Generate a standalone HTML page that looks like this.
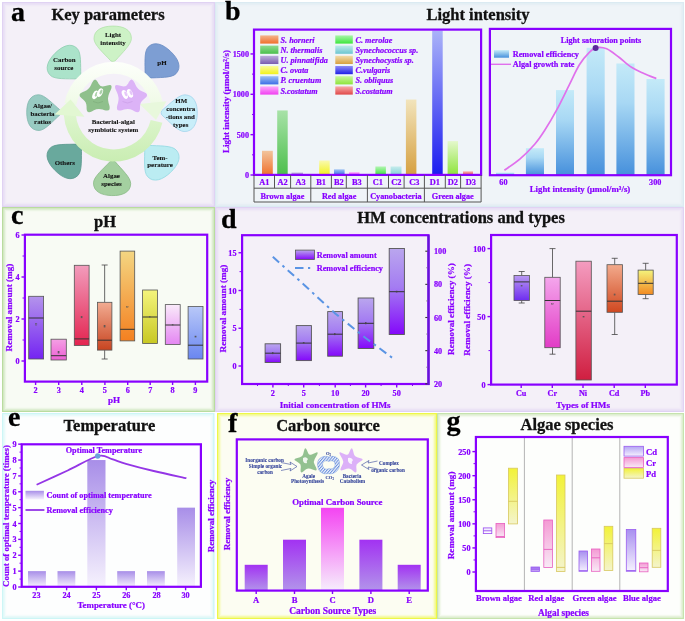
<!DOCTYPE html><html><head><meta charset="utf-8"><style>html,body{margin:0;padding:0;background:#fff;}svg{display:block;will-change:transform}</style></head><body>
<svg width="685" height="621" viewBox="0 0 685 621" style="font-family:'Liberation Serif',serif;font-weight:bold"><defs><linearGradient id="g1" x1="0" y1="0" x2="0" y2="1"><stop offset="0" stop-color="#f4b48c"/><stop offset="1" stop-color="#f0702c"/></linearGradient><linearGradient id="g2" x1="0" y1="0" x2="0" y2="1"><stop offset="0" stop-color="#8fdc8f"/><stop offset="1" stop-color="#4cbf4c"/></linearGradient><linearGradient id="g3" x1="0" y1="0" x2="0" y2="1"><stop offset="0" stop-color="#bcaedb"/><stop offset="1" stop-color="#7a5cb0"/></linearGradient><linearGradient id="g4" x1="0" y1="0" x2="0" y2="1"><stop offset="0" stop-color="#fafa9c"/><stop offset="1" stop-color="#f2f21c"/></linearGradient><linearGradient id="g5" x1="0" y1="0" x2="0" y2="1"><stop offset="0" stop-color="#9cc0f4"/><stop offset="1" stop-color="#3c6ee6"/></linearGradient><linearGradient id="g6" x1="0" y1="0" x2="0" y2="1"><stop offset="0" stop-color="#fcaafc"/><stop offset="1" stop-color="#f040f0"/></linearGradient><linearGradient id="g7" x1="0" y1="0" x2="0" y2="1"><stop offset="0" stop-color="#a8f4a8"/><stop offset="1" stop-color="#3ce63c"/></linearGradient><linearGradient id="g8" x1="0" y1="0" x2="0" y2="1"><stop offset="0" stop-color="#bfeaea"/><stop offset="1" stop-color="#6cc6d0"/></linearGradient><linearGradient id="g9" x1="0" y1="0" x2="0" y2="1"><stop offset="0" stop-color="#f2dcaa"/><stop offset="1" stop-color="#d6a040"/></linearGradient><linearGradient id="g10" x1="0" y1="0" x2="0" y2="1"><stop offset="0" stop-color="#8a8af8"/><stop offset="1" stop-color="#2020e6"/></linearGradient><linearGradient id="g11" x1="0" y1="0" x2="0" y2="1"><stop offset="0" stop-color="#c8f89c"/><stop offset="1" stop-color="#8ee43c"/></linearGradient><linearGradient id="g12" x1="0" y1="0" x2="0" y2="1"><stop offset="0" stop-color="#f8aaaa"/><stop offset="1" stop-color="#e04848"/></linearGradient><linearGradient id="g13" x1="0" y1="0" x2="0" y2="1"><stop offset="0" stop-color="#f2c49c"/><stop offset="1" stop-color="#f0702c"/></linearGradient><linearGradient id="g14" x1="0" y1="0" x2="0" y2="1"><stop offset="0" stop-color="#a8e2a8"/><stop offset="1" stop-color="#4cbf4c"/></linearGradient><linearGradient id="g15" x1="0" y1="0" x2="0" y2="1"><stop offset="0" stop-color="#bcaedb"/><stop offset="1" stop-color="#9a86c8"/></linearGradient><linearGradient id="g16" x1="0" y1="0" x2="0" y2="1"><stop offset="0" stop-color="#fafab0"/><stop offset="1" stop-color="#f2f21c"/></linearGradient><linearGradient id="g17" x1="0" y1="0" x2="0" y2="1"><stop offset="0" stop-color="#9cc0f4"/><stop offset="1" stop-color="#3c6ee6"/></linearGradient><linearGradient id="g18" x1="0" y1="0" x2="0" y2="1"><stop offset="0" stop-color="#fcaafc"/><stop offset="1" stop-color="#f060f0"/></linearGradient><linearGradient id="g19" x1="0" y1="0" x2="0" y2="1"><stop offset="0" stop-color="#b4f4b4"/><stop offset="1" stop-color="#3ce63c"/></linearGradient><linearGradient id="g20" x1="0" y1="0" x2="0" y2="1"><stop offset="0" stop-color="#c6ecec"/><stop offset="1" stop-color="#80d0d8"/></linearGradient><linearGradient id="g21" x1="0" y1="0" x2="0" y2="1"><stop offset="0" stop-color="#f2e4bc"/><stop offset="1" stop-color="#d6a040"/></linearGradient><linearGradient id="g22" x1="0" y1="0" x2="0" y2="1"><stop offset="0" stop-color="#aab2f8"/><stop offset="1" stop-color="#1c1cf0"/></linearGradient><linearGradient id="g23" x1="0" y1="0" x2="0" y2="1"><stop offset="0" stop-color="#e4f8cc"/><stop offset="1" stop-color="#8ee43c"/></linearGradient><linearGradient id="g24" x1="0" y1="0" x2="0" y2="1"><stop offset="0" stop-color="#f8aaaa"/><stop offset="1" stop-color="#e85c5c"/></linearGradient><linearGradient id="g25" x1="0" y1="0" x2="0" y2="1"><stop offset="0" stop-color="#c4eaf8"/><stop offset="0.35" stop-color="#a8d8f4"/><stop offset="1" stop-color="#4690dc"/></linearGradient><linearGradient id="g26" x1="0" y1="0" x2="0" y2="1"><stop offset="0" stop-color="#c4eaf8"/><stop offset="1" stop-color="#4690dc"/></linearGradient><linearGradient id="g27" x1="0" y1="0" x2="0" y2="1"><stop offset="0" stop-color="#b494ec"/><stop offset="1" stop-color="#7424f2"/></linearGradient><linearGradient id="g28" x1="0" y1="0" x2="0" y2="1"><stop offset="0" stop-color="#f4a0e4"/><stop offset="1" stop-color="#ec60d4"/></linearGradient><linearGradient id="g29" x1="0" y1="0" x2="0" y2="1"><stop offset="0" stop-color="#f29cbc"/><stop offset="1" stop-color="#e42450"/></linearGradient><linearGradient id="g30" x1="0" y1="0" x2="0" y2="1"><stop offset="0" stop-color="#f2ac92"/><stop offset="1" stop-color="#c84420"/></linearGradient><linearGradient id="g31" x1="0" y1="0" x2="0" y2="1"><stop offset="0" stop-color="#f4d682"/><stop offset="1" stop-color="#f48020"/></linearGradient><linearGradient id="g32" x1="0" y1="0" x2="0" y2="1"><stop offset="0" stop-color="#f4f47c"/><stop offset="1" stop-color="#c8c824"/></linearGradient><linearGradient id="g33" x1="0" y1="0" x2="0" y2="1"><stop offset="0" stop-color="#faeafa"/><stop offset="1" stop-color="#e486f2"/></linearGradient><linearGradient id="g34" x1="0" y1="0" x2="0" y2="1"><stop offset="0" stop-color="#b8c8f8"/><stop offset="1" stop-color="#6a86f0"/></linearGradient><linearGradient id="g35" x1="0" y1="0" x2="0" y2="1"><stop offset="0" stop-color="#baa6ee"/><stop offset="0.45" stop-color="#a47cf2"/><stop offset="1" stop-color="#8408fa"/></linearGradient><linearGradient id="g36" x1="0" y1="0" x2="0" y2="1"><stop offset="0" stop-color="#baa6ee"/><stop offset="0.45" stop-color="#a47cf2"/><stop offset="1" stop-color="#8408fa"/></linearGradient><linearGradient id="g37" x1="0" y1="0" x2="0" y2="1"><stop offset="0" stop-color="#baa6ee"/><stop offset="0.45" stop-color="#a47cf2"/><stop offset="1" stop-color="#8408fa"/></linearGradient><linearGradient id="g38" x1="0" y1="0" x2="0" y2="1"><stop offset="0" stop-color="#baa6ee"/><stop offset="0.45" stop-color="#a47cf2"/><stop offset="1" stop-color="#8408fa"/></linearGradient><linearGradient id="g39" x1="0" y1="0" x2="0" y2="1"><stop offset="0" stop-color="#baa6ee"/><stop offset="0.45" stop-color="#a47cf2"/><stop offset="1" stop-color="#8408fa"/></linearGradient><linearGradient id="g40" x1="0" y1="0" x2="0" y2="1"><stop offset="0" stop-color="#baa6ee"/><stop offset="1" stop-color="#8408fa"/></linearGradient><linearGradient id="g41" x1="0" y1="0" x2="0" y2="1"><stop offset="0" stop-color="#b898f2"/><stop offset="1" stop-color="#6e2cf0"/></linearGradient><linearGradient id="g42" x1="0" y1="0" x2="0" y2="1"><stop offset="0" stop-color="#f4a6ec"/><stop offset="1" stop-color="#e23cc6"/></linearGradient><linearGradient id="g43" x1="0" y1="0" x2="0" y2="1"><stop offset="0" stop-color="#f49cc0"/><stop offset="1" stop-color="#d01e40"/></linearGradient><linearGradient id="g44" x1="0" y1="0" x2="0" y2="1"><stop offset="0" stop-color="#f2aa8c"/><stop offset="1" stop-color="#d04820"/></linearGradient><linearGradient id="g45" x1="0" y1="0" x2="0" y2="1"><stop offset="0" stop-color="#f4f47c"/><stop offset="1" stop-color="#f28a22"/></linearGradient><linearGradient id="g46" x1="0" y1="0" x2="0" y2="1"><stop offset="0" stop-color="#a88ee8"/><stop offset="1" stop-color="#f6f2fd"/></linearGradient><linearGradient id="g47" x1="0" y1="0" x2="0" y2="1"><stop offset="0" stop-color="#a88ee8"/><stop offset="1" stop-color="#f6f2fd"/></linearGradient><linearGradient id="g48" x1="0" y1="0" x2="0" y2="1"><stop offset="0" stop-color="#a88ee8"/><stop offset="1" stop-color="#f6f2fd"/></linearGradient><linearGradient id="g49" x1="0" y1="0" x2="0" y2="1"><stop offset="0" stop-color="#a88ee8"/><stop offset="1" stop-color="#f6f2fd"/></linearGradient><linearGradient id="g50" x1="0" y1="0" x2="0" y2="1"><stop offset="0" stop-color="#a88ee8"/><stop offset="1" stop-color="#f6f2fd"/></linearGradient><linearGradient id="g51" x1="0" y1="0" x2="0" y2="1"><stop offset="0" stop-color="#a88ee8"/><stop offset="1" stop-color="#f6f2fd"/></linearGradient><linearGradient id="g52" x1="0" y1="0" x2="0" y2="1"><stop offset="0" stop-color="#a88ee8"/><stop offset="1" stop-color="#f6f2fd"/></linearGradient><linearGradient id="g53" x1="0" y1="0" x2="0" y2="1"><stop offset="0" stop-color="#a88ee8"/><stop offset="1" stop-color="#f6f2fd"/></linearGradient><linearGradient id="g54" x1="0" y1="0" x2="0" y2="1"><stop offset="0" stop-color="#a232f2"/><stop offset="1" stop-color="#b294ea"/></linearGradient><linearGradient id="g55" x1="0" y1="0" x2="0" y2="1"><stop offset="0" stop-color="#a232f2"/><stop offset="1" stop-color="#b294ea"/></linearGradient><linearGradient id="g56" x1="0" y1="0" x2="0" y2="1"><stop offset="0" stop-color="#f444f2"/><stop offset="1" stop-color="#f6eefc"/></linearGradient><linearGradient id="g57" x1="0" y1="0" x2="0" y2="1"><stop offset="0" stop-color="#a232f2"/><stop offset="1" stop-color="#b294ea"/></linearGradient><linearGradient id="g58" x1="0" y1="0" x2="0" y2="1"><stop offset="0" stop-color="#a232f2"/><stop offset="1" stop-color="#b294ea"/></linearGradient><pattern id="hatch" width="2.2" height="2.2" patternUnits="userSpaceOnUse" patternTransform="rotate(40)"><rect width="2.2" height="2.2" fill="#eef3fc"/><rect width="1" height="2.2" fill="#6a90dc"/></pattern><linearGradient id="g59" x1="0" y1="0" x2="0" y2="1"><stop offset="0" stop-color="#ece6fd"/><stop offset="1" stop-color="#ffffff"/></linearGradient><linearGradient id="g60" x1="0" y1="0" x2="0" y2="1"><stop offset="0" stop-color="#f49ad4"/><stop offset="1" stop-color="#f8eaf6"/></linearGradient><linearGradient id="g61" x1="0" y1="0" x2="0" y2="1"><stop offset="0" stop-color="#f2f238"/><stop offset="1" stop-color="#f4f4cc"/></linearGradient><linearGradient id="g62" x1="0" y1="0" x2="0" y2="1"><stop offset="0" stop-color="#a070f0"/><stop offset="1" stop-color="#c8a8f4"/></linearGradient><linearGradient id="g63" x1="0" y1="0" x2="0" y2="1"><stop offset="0" stop-color="#f49ad4"/><stop offset="1" stop-color="#f8eaf6"/></linearGradient><linearGradient id="g64" x1="0" y1="0" x2="0" y2="1"><stop offset="0" stop-color="#f2f238"/><stop offset="1" stop-color="#f4f4cc"/></linearGradient><linearGradient id="g65" x1="0" y1="0" x2="0" y2="1"><stop offset="0" stop-color="#a890f0"/><stop offset="1" stop-color="#f6f2fe"/></linearGradient><linearGradient id="g66" x1="0" y1="0" x2="0" y2="1"><stop offset="0" stop-color="#f49ad4"/><stop offset="1" stop-color="#f8eaf6"/></linearGradient><linearGradient id="g67" x1="0" y1="0" x2="0" y2="1"><stop offset="0" stop-color="#f2f238"/><stop offset="1" stop-color="#f4f4cc"/></linearGradient><linearGradient id="g68" x1="0" y1="0" x2="0" y2="1"><stop offset="0" stop-color="#a890f0"/><stop offset="1" stop-color="#f6f2fe"/></linearGradient><linearGradient id="g69" x1="0" y1="0" x2="0" y2="1"><stop offset="0" stop-color="#f49ad4"/><stop offset="1" stop-color="#f8eaf6"/></linearGradient><linearGradient id="g70" x1="0" y1="0" x2="0" y2="1"><stop offset="0" stop-color="#f2f238"/><stop offset="1" stop-color="#f4f4cc"/></linearGradient><linearGradient id="g71" x1="0" y1="0" x2="0" y2="1"><stop offset="0" stop-color="#b4a4f4"/><stop offset="1" stop-color="#f6f2fe"/></linearGradient><linearGradient id="g72" x1="0" y1="0" x2="0" y2="1"><stop offset="0" stop-color="#f49ad4"/><stop offset="1" stop-color="#f8eaf6"/></linearGradient><linearGradient id="g73" x1="0" y1="0" x2="0" y2="1"><stop offset="0" stop-color="#f2f238"/><stop offset="1" stop-color="#f4f4cc"/></linearGradient><linearGradient id="ringT" gradientUnits="userSpaceOnUse" x1="0" y1="62" x2="0" y2="122"><stop offset="0" stop-color="#fdfffb"/><stop offset="0.6" stop-color="#f2fbea"/><stop offset="1" stop-color="#e2f6d4"/></linearGradient><linearGradient id="ringB" gradientUnits="userSpaceOnUse" x1="0" y1="100" x2="0" y2="162"><stop offset="0" stop-color="#e4f8d6"/><stop offset="1" stop-color="#c9edb2"/></linearGradient></defs><rect x="2" y="2" width="213" height="205" fill="#f4f0f8" stroke="none" stroke-width="0" />
<rect x="2.7" y="2.7" width="211.6" height="203.6" fill="none" stroke="#e0d2f3" stroke-width="1.4" />
<rect x="4.1" y="4.1" width="208.8" height="200.8" fill="none" stroke="#e0d2f3" stroke-width="1.4" opacity="0.45"/>
<rect x="5.5" y="5.5" width="206" height="198" fill="none" stroke="#e0d2f3" stroke-width="1.4" opacity="0.18"/>
<rect x="215" y="2" width="469" height="205" fill="#eff4f8" stroke="none" stroke-width="0" />
<rect x="215.7" y="2.7" width="467.6" height="203.6" fill="none" stroke="#dbeaf2" stroke-width="1.4" />
<rect x="217.1" y="4.1" width="464.8" height="200.8" fill="none" stroke="#dbeaf2" stroke-width="1.4" opacity="0.45"/>
<rect x="218.5" y="5.5" width="462" height="198" fill="none" stroke="#dbeaf2" stroke-width="1.4" opacity="0.18"/>
<rect x="2" y="207" width="213" height="205" fill="#f8fbf4" stroke="none" stroke-width="0" />
<rect x="2.7" y="207.7" width="211.6" height="203.6" fill="none" stroke="#b9dc9f" stroke-width="1.4" />
<rect x="4.1" y="209.1" width="208.8" height="200.8" fill="none" stroke="#b9dc9f" stroke-width="1.4" opacity="0.45"/>
<rect x="5.5" y="210.5" width="206" height="198" fill="none" stroke="#b9dc9f" stroke-width="1.4" opacity="0.18"/>
<rect x="215" y="207" width="469" height="205" fill="#f4f0f8" stroke="none" stroke-width="0" />
<rect x="215.7" y="207.7" width="467.6" height="203.6" fill="none" stroke="#e0d2f3" stroke-width="1.4" />
<rect x="217.1" y="209.1" width="464.8" height="200.8" fill="none" stroke="#e0d2f3" stroke-width="1.4" opacity="0.45"/>
<rect x="218.5" y="210.5" width="462" height="198" fill="none" stroke="#e0d2f3" stroke-width="1.4" opacity="0.18"/>
<rect x="2" y="413" width="212.5" height="206" fill="#fdfefe" stroke="none" stroke-width="0" />
<rect x="2.7" y="413.7" width="211.1" height="204.6" fill="none" stroke="#cdf6f6" stroke-width="1.4" />
<rect x="4.1" y="415.1" width="208.3" height="201.8" fill="none" stroke="#cdf6f6" stroke-width="1.4" opacity="0.45"/>
<rect x="5.5" y="416.5" width="205.5" height="199" fill="none" stroke="#cdf6f6" stroke-width="1.4" opacity="0.18"/>
<rect x="217" y="413" width="220" height="206" fill="#fcfdf2" stroke="none" stroke-width="0" />
<rect x="217.7" y="413.7" width="218.6" height="204.6" fill="none" stroke="#eef748" stroke-width="1.4" />
<rect x="219.1" y="415.1" width="215.8" height="201.8" fill="none" stroke="#eef748" stroke-width="1.4" opacity="0.45"/>
<rect x="220.5" y="416.5" width="213" height="199" fill="none" stroke="#eef748" stroke-width="1.4" opacity="0.18"/>
<rect x="437" y="413" width="247" height="206" fill="#fdfefc" stroke="none" stroke-width="0" />
<rect x="437.7" y="413.7" width="245.6" height="204.6" fill="none" stroke="#c6e3ae" stroke-width="1.4" />
<rect x="439.1" y="415.1" width="242.8" height="201.8" fill="none" stroke="#c6e3ae" stroke-width="1.4" opacity="0.45"/>
<rect x="440.5" y="416.5" width="240" height="199" fill="none" stroke="#c6e3ae" stroke-width="1.4" opacity="0.18"/>
<text x="11" y="21" font-size="28" fill="#000" stroke="#000" stroke-width="0.3" text-anchor="start"  style="">a</text>
<text x="225" y="20" font-size="28" fill="#000" stroke="#000" stroke-width="0.3" text-anchor="start"  style="">b</text>
<text x="11" y="224" font-size="28" fill="#000" stroke="#000" stroke-width="0.3" text-anchor="start"  style="">c</text>
<text x="221" y="228" font-size="28" fill="#000" stroke="#000" stroke-width="0.3" text-anchor="start"  style="">d</text>
<text x="8" y="426" font-size="28" fill="#000" stroke="#000" stroke-width="0.3" text-anchor="start"  style="">e</text>
<text x="228" y="431.8" font-size="28" fill="#000" stroke="#000" stroke-width="0.3" text-anchor="start"  style="">f</text>
<text x="446.5" y="430" font-size="28" fill="#000" stroke="#000" stroke-width="0.3" text-anchor="start"  style="">g</text>
<text x="108" y="20" font-size="16.5" fill="#111" stroke="#111" stroke-width="0.3" text-anchor="middle"  style="">Key parameters</text>
<text x="478" y="20" font-size="16.5" fill="#111" stroke="#111" stroke-width="0.3" text-anchor="middle"  style="">Light intensity</text>
<text x="105" y="227" font-size="16.5" fill="#111" stroke="#111" stroke-width="0.3" text-anchor="middle"  style="">pH</text>
<text x="461" y="223" font-size="16.5" fill="#111" stroke="#111" stroke-width="0.3" text-anchor="middle"  style="">HM concentrations and types</text>
<text x="109.4" y="431" font-size="16.5" fill="#111" stroke="#111" stroke-width="0.3" text-anchor="middle"  style="">Temperature</text>
<text x="328" y="431" font-size="16.5" fill="#111" stroke="#111" stroke-width="0.3" text-anchor="middle"  style="">Carbon source</text>
<text x="567" y="430" font-size="16.5" fill="#111" stroke="#111" stroke-width="0.3" text-anchor="middle"  style="">Algae species</text>
<rect x="260.2" y="35.4" width="18.2" height="8.2" fill="url(#g1)" stroke="none" stroke-width="0" />
<text x="280.5" y="42.6" font-size="8.2" fill="#8800ff" stroke="#8800ff" stroke-width="0.22" text-anchor="start"  style="font-style:italic">S. horneri</text>
<rect x="260.2" y="45.6" width="18.2" height="8.2" fill="url(#g2)" stroke="none" stroke-width="0" />
<text x="280.5" y="52.800000000000004" font-size="8.2" fill="#8800ff" stroke="#8800ff" stroke-width="0.22" text-anchor="start"  style="font-style:italic">N. thermalis</text>
<rect x="260.2" y="55.8" width="18.2" height="8.2" fill="url(#g3)" stroke="none" stroke-width="0" />
<text x="280.5" y="63.0" font-size="8.2" fill="#8800ff" stroke="#8800ff" stroke-width="0.22" text-anchor="start"  style="font-style:italic">U. pinnatifida</text>
<rect x="260.2" y="66.0" width="18.2" height="8.2" fill="url(#g4)" stroke="none" stroke-width="0" />
<text x="280.5" y="73.2" font-size="8.2" fill="#8800ff" stroke="#8800ff" stroke-width="0.22" text-anchor="start"  style="font-style:italic">C. ovata</text>
<rect x="260.2" y="76.2" width="18.2" height="8.2" fill="url(#g5)" stroke="none" stroke-width="0" />
<text x="280.5" y="83.4" font-size="8.2" fill="#8800ff" stroke="#8800ff" stroke-width="0.22" text-anchor="start"  style="font-style:italic">P. cruentum</text>
<rect x="260.2" y="86.4" width="18.2" height="8.2" fill="url(#g6)" stroke="none" stroke-width="0" />
<text x="280.5" y="93.60000000000001" font-size="8.2" fill="#8800ff" stroke="#8800ff" stroke-width="0.22" text-anchor="start"  style="font-style:italic">S.costatum</text>
<rect x="335.3" y="35.4" width="17.5" height="8.2" fill="url(#g7)" stroke="none" stroke-width="0" />
<text x="355.5" y="42.6" font-size="8.2" fill="#8800ff" stroke="#8800ff" stroke-width="0.22" text-anchor="start"  style="font-style:italic">C. merolae</text>
<rect x="335.3" y="45.6" width="17.5" height="8.2" fill="url(#g8)" stroke="none" stroke-width="0" />
<text x="355.5" y="52.800000000000004" font-size="8.2" fill="#8800ff" stroke="#8800ff" stroke-width="0.22" text-anchor="start"  style="font-style:italic">Synechococcus sp.</text>
<rect x="335.3" y="55.8" width="17.5" height="8.2" fill="url(#g9)" stroke="none" stroke-width="0" />
<text x="355.5" y="63.0" font-size="8.2" fill="#8800ff" stroke="#8800ff" stroke-width="0.22" text-anchor="start"  style="font-style:italic">Synechocystis sp.</text>
<rect x="335.3" y="66.0" width="17.5" height="8.2" fill="url(#g10)" stroke="none" stroke-width="0" />
<text x="355.5" y="73.2" font-size="8.2" fill="#8800ff" stroke="#8800ff" stroke-width="0.22" text-anchor="start"  style="font-style:italic">C.vulgaris</text>
<rect x="335.3" y="76.2" width="17.5" height="8.2" fill="url(#g11)" stroke="none" stroke-width="0" />
<text x="355.5" y="83.4" font-size="8.2" fill="#8800ff" stroke="#8800ff" stroke-width="0.22" text-anchor="start"  style="font-style:italic">S. obliquus</text>
<rect x="335.3" y="86.4" width="17.5" height="8.2" fill="url(#g12)" stroke="none" stroke-width="0" />
<text x="355.5" y="93.60000000000001" font-size="8.2" fill="#8800ff" stroke="#8800ff" stroke-width="0.22" text-anchor="start"  style="font-style:italic">S.costatum</text>
<rect x="262" y="150.79" width="10.800000000000011" height="24.210000000000008" fill="url(#g13)" stroke="none" stroke-width="0" />
<rect x="277.2" y="110.44" width="10.5" height="64.56" fill="url(#g14)" stroke="none" stroke-width="0" />
<rect x="291.5" y="172.579" width="11.5" height="2.4209999999999923" fill="url(#g15)" stroke="none" stroke-width="0" />
<rect x="319.2" y="160.474" width="10.5" height="14.52600000000001" fill="url(#g16)" stroke="none" stroke-width="0" />
<rect x="334" y="169.351" width="10.600000000000023" height="5.649000000000001" fill="url(#g17)" stroke="none" stroke-width="0" />
<rect x="349" y="172.1755" width="10.5" height="2.8245000000000005" fill="url(#g18)" stroke="none" stroke-width="0" />
<rect x="375.4" y="166.4458" width="10.5" height="8.554200000000009" fill="url(#g19)" stroke="none" stroke-width="0" />
<rect x="390.6" y="166.4458" width="10.899999999999977" height="8.554200000000009" fill="url(#g20)" stroke="none" stroke-width="0" />
<rect x="405.9" y="99.5455" width="10.5" height="75.4545" fill="url(#g21)" stroke="none" stroke-width="0" />
<rect x="432.2" y="30.546999999999997" width="10.5" height="144.453" fill="url(#g22)" stroke="none" stroke-width="0" />
<rect x="447.6" y="141.106" width="10.399999999999977" height="33.894000000000005" fill="url(#g23)" stroke="none" stroke-width="0" />
<rect x="463" y="171.3685" width="10" height="3.6314999999999884" fill="url(#g24)" stroke="none" stroke-width="0" />
<rect x="254" y="29.6" width="227.10000000000002" height="145.3" fill="none" stroke="#8800ff" stroke-width="2.2"/>
<line x1="250.5" y1="175.0" x2="254" y2="175.0" stroke="#8800ff" stroke-width="1.4" />
<text x="249" y="178.0" font-size="8.2" fill="#8800ff" stroke="#8800ff" stroke-width="0.22" text-anchor="end"  style="">0</text>
<line x1="250.5" y1="134.65" x2="254" y2="134.65" stroke="#8800ff" stroke-width="1.4" />
<text x="249" y="137.65" font-size="8.2" fill="#8800ff" stroke="#8800ff" stroke-width="0.22" text-anchor="end"  style="">500</text>
<line x1="250.5" y1="94.30000000000001" x2="254" y2="94.30000000000001" stroke="#8800ff" stroke-width="1.4" />
<text x="249" y="97.30000000000001" font-size="8.2" fill="#8800ff" stroke="#8800ff" stroke-width="0.22" text-anchor="end"  style="">1000</text>
<line x1="250.5" y1="53.95" x2="254" y2="53.95" stroke="#8800ff" stroke-width="1.4" />
<text x="249" y="56.95" font-size="8.2" fill="#8800ff" stroke="#8800ff" stroke-width="0.22" text-anchor="end"  style="">1500</text>
<line x1="252" y1="154.825" x2="254" y2="154.825" stroke="#8800ff" stroke-width="1" />
<line x1="252" y1="114.475" x2="254" y2="114.475" stroke="#8800ff" stroke-width="1" />
<line x1="252" y1="74.12500000000001" x2="254" y2="74.12500000000001" stroke="#8800ff" stroke-width="1" />
<text x="0" y="0" font-size="9" fill="#8800ff" stroke="#8800ff" stroke-width="0.22" text-anchor="middle" dominant-baseline="central" transform="translate(226.4,101.5) rotate(-90)">Light intensity (μmol/m²/s)</text>
<line x1="254" y1="175" x2="254" y2="202" stroke="#555" stroke-width="1" />
<line x1="274.5" y1="175" x2="274.5" y2="188.2" stroke="#555" stroke-width="1" />
<line x1="290.6" y1="175" x2="290.6" y2="188.2" stroke="#555" stroke-width="1" />
<line x1="310.8" y1="175" x2="310.8" y2="202" stroke="#555" stroke-width="1" />
<line x1="331.4" y1="175" x2="331.4" y2="188.2" stroke="#555" stroke-width="1" />
<line x1="346.3" y1="175" x2="346.3" y2="188.2" stroke="#555" stroke-width="1" />
<line x1="367.4" y1="175" x2="367.4" y2="202" stroke="#555" stroke-width="1" />
<line x1="388.5" y1="175" x2="388.5" y2="188.2" stroke="#555" stroke-width="1" />
<line x1="404.1" y1="175" x2="404.1" y2="188.2" stroke="#555" stroke-width="1" />
<line x1="424.4" y1="175" x2="424.4" y2="202" stroke="#555" stroke-width="1" />
<line x1="445.3" y1="175" x2="445.3" y2="188.2" stroke="#555" stroke-width="1" />
<line x1="460.6" y1="175" x2="460.6" y2="188.2" stroke="#555" stroke-width="1" />
<line x1="481.1" y1="175" x2="481.1" y2="202" stroke="#555" stroke-width="1" />
<line x1="254" y1="188.2" x2="481.1" y2="188.2" stroke="#555" stroke-width="1" />
<line x1="254" y1="202" x2="481.1" y2="202" stroke="#555" stroke-width="1.2" />
<text x="264.25" y="185" font-size="8.4" fill="#8800ff" stroke="#8800ff" stroke-width="0.22" text-anchor="middle"  style="">A1</text>
<text x="282.55" y="185" font-size="8.4" fill="#8800ff" stroke="#8800ff" stroke-width="0.22" text-anchor="middle"  style="">A2</text>
<text x="300.70000000000005" y="185" font-size="8.4" fill="#8800ff" stroke="#8800ff" stroke-width="0.22" text-anchor="middle"  style="">A3</text>
<text x="321.1" y="185" font-size="8.4" fill="#8800ff" stroke="#8800ff" stroke-width="0.22" text-anchor="middle"  style="">B1</text>
<text x="338.85" y="185" font-size="8.4" fill="#8800ff" stroke="#8800ff" stroke-width="0.22" text-anchor="middle"  style="">B2</text>
<text x="356.85" y="185" font-size="8.4" fill="#8800ff" stroke="#8800ff" stroke-width="0.22" text-anchor="middle"  style="">B3</text>
<text x="377.95" y="185" font-size="8.4" fill="#8800ff" stroke="#8800ff" stroke-width="0.22" text-anchor="middle"  style="">C1</text>
<text x="396.3" y="185" font-size="8.4" fill="#8800ff" stroke="#8800ff" stroke-width="0.22" text-anchor="middle"  style="">C2</text>
<text x="414.25" y="185" font-size="8.4" fill="#8800ff" stroke="#8800ff" stroke-width="0.22" text-anchor="middle"  style="">C3</text>
<text x="434.85" y="185" font-size="8.4" fill="#8800ff" stroke="#8800ff" stroke-width="0.22" text-anchor="middle"  style="">D1</text>
<text x="452.95000000000005" y="185" font-size="8.4" fill="#8800ff" stroke="#8800ff" stroke-width="0.22" text-anchor="middle"  style="">D2</text>
<text x="470.85" y="185" font-size="8.4" fill="#8800ff" stroke="#8800ff" stroke-width="0.22" text-anchor="middle"  style="">D3</text>
<text x="282.4" y="198.8" font-size="8.2" fill="#8800ff" stroke="#8800ff" stroke-width="0.22" text-anchor="middle"  style="">Brown algae</text>
<text x="339.1" y="198.8" font-size="8.2" fill="#8800ff" stroke="#8800ff" stroke-width="0.22" text-anchor="middle"  style="">Red algae</text>
<text x="395.9" y="198.8" font-size="8.2" fill="#8800ff" stroke="#8800ff" stroke-width="0.22" text-anchor="middle"  style="">Cyanobacteria</text>
<text x="452.75" y="198.8" font-size="8.2" fill="#8800ff" stroke="#8800ff" stroke-width="0.22" text-anchor="middle"  style="">Green algae</text>
<rect x="496" y="172.6" width="18.200000000000045" height="2.4000000000000057" fill="url(#g25)" stroke="none" stroke-width="0" />
<rect x="525.9" y="148.2" width="18.100000000000023" height="26.80000000000001" fill="url(#g25)" stroke="none" stroke-width="0" />
<rect x="556" y="90.1" width="18" height="84.9" fill="url(#g25)" stroke="none" stroke-width="0" />
<rect x="586.6" y="47.8" width="18.100000000000023" height="127.2" fill="url(#g25)" stroke="none" stroke-width="0" />
<rect x="616.4" y="63.5" width="18.100000000000023" height="111.5" fill="url(#g25)" stroke="none" stroke-width="0" />
<rect x="646.5" y="79" width="18.100000000000023" height="96" fill="url(#g25)" stroke="none" stroke-width="0" />
<path d="M504.40,170.20 C506.97,168.35 514.75,163.43 519.80,159.10 C524.85,154.77 530.57,148.97 534.70,144.20 C538.83,139.43 540.88,136.30 544.60,130.50 C548.32,124.70 552.87,117.05 557.00,109.40 C561.13,101.75 565.67,92.03 569.40,84.60 C573.13,77.17 576.08,70.17 579.40,64.80 C582.72,59.43 586.42,55.27 589.30,52.40 C592.18,49.53 593.80,48.20 596.70,47.60 C599.60,47.00 602.98,47.18 606.70,48.80 C610.42,50.42 614.87,54.22 619.00,57.30 C623.13,60.38 627.35,64.60 631.50,67.30 C635.65,70.00 639.77,71.62 643.90,73.50 C648.03,75.38 654.23,77.75 656.30,78.60" fill="none" stroke="#e070ec" stroke-width="1.7"/>
<circle cx="595.6" cy="47.9" r="3" fill="#5a2a9a"/>
<rect x="489.9" y="28.9" width="181.10000000000002" height="146.29999999999998" fill="none" stroke="#8800ff" stroke-width="2.2"/>
<text x="601" y="43" font-size="8.2" fill="#8800ff" stroke="#8800ff" stroke-width="0.22" text-anchor="middle"  style="">Light saturation points</text>
<rect x="494" y="50.1" width="15" height="7.6" fill="url(#g26)" stroke="none" stroke-width="0" />
<text x="512.8" y="57" font-size="8.2" fill="#8800ff" stroke="#8800ff" stroke-width="0.22" text-anchor="start"  style="">Removal efficiency</text>
<line x1="491" y1="64.3" x2="511" y2="64.3" stroke="#e070ec" stroke-width="1.4" />
<text x="512.8" y="67" font-size="8.2" fill="#8800ff" stroke="#8800ff" stroke-width="0.22" text-anchor="start"  style="">Algal growth rate</text>
<text x="503.4" y="184.5" font-size="8.2" fill="#8800ff" stroke="#8800ff" stroke-width="0.22" text-anchor="middle"  style="">60</text>
<text x="655.2" y="184.5" font-size="8.2" fill="#8800ff" stroke="#8800ff" stroke-width="0.22" text-anchor="middle"  style="">300</text>
<text x="580" y="192" font-size="8.8" fill="#8800ff" stroke="#8800ff" stroke-width="0.22" text-anchor="middle"  style="">Light intensity (μmol/m³/s)</text>
<rect x="28.7" y="296.3" width="14.900000000000002" height="62.69999999999999" fill="url(#g27)" stroke="#555" stroke-width="0.8" />
<line x1="28.7" y1="318" x2="43.6" y2="318" stroke="#333" stroke-width="1" />
<rect x="35.449999999999996" y="323.7" width="1.4" height="1.4" fill="none" stroke="#555" stroke-width="0.4"/>
<rect x="51" y="339.2" width="15.299999999999997" height="20.80000000000001" fill="url(#g28)" stroke="#555" stroke-width="0.8" />
<line x1="51" y1="355.7" x2="66.3" y2="355.7" stroke="#333" stroke-width="1" />
<rect x="57.949999999999996" y="351.8" width="1.4" height="1.4" fill="none" stroke="#555" stroke-width="0.4"/>
<rect x="74.3" y="265.3" width="14.799999999999997" height="80.19999999999999" fill="url(#g29)" stroke="#555" stroke-width="0.8" />
<line x1="74.3" y1="338.9" x2="89.1" y2="338.9" stroke="#333" stroke-width="1" />
<rect x="80.99999999999999" y="316.5" width="1.4" height="1.4" fill="none" stroke="#555" stroke-width="0.4"/>
<line x1="104.65" y1="265" x2="104.65" y2="302.3" stroke="#444" stroke-width="0.8" />
<line x1="104.65" y1="350.1" x2="104.65" y2="359" stroke="#444" stroke-width="0.8" />
<line x1="101.65" y1="265" x2="107.65" y2="265" stroke="#444" stroke-width="0.8" />
<line x1="101.65" y1="359" x2="107.65" y2="359" stroke="#444" stroke-width="0.8" />
<rect x="97.4" y="302.3" width="14.5" height="47.80000000000001" fill="url(#g30)" stroke="#555" stroke-width="0.8" />
<line x1="97.4" y1="340.2" x2="111.9" y2="340.2" stroke="#333" stroke-width="1" />
<rect x="103.95" y="325.8" width="1.4" height="1.4" fill="none" stroke="#555" stroke-width="0.4"/>
<rect x="120.1" y="251.1" width="14.599999999999994" height="89.79999999999998" fill="url(#g31)" stroke="#555" stroke-width="0.8" />
<line x1="120.1" y1="329.3" x2="134.7" y2="329.3" stroke="#333" stroke-width="1" />
<rect x="126.69999999999999" y="306.3" width="1.4" height="1.4" fill="none" stroke="#555" stroke-width="0.4"/>
<rect x="142.6" y="290" width="14.800000000000011" height="53.5" fill="url(#g32)" stroke="#555" stroke-width="0.8" />
<line x1="142.6" y1="317" x2="157.4" y2="317" stroke="#333" stroke-width="1" />
<rect x="149.3" y="316.3" width="1.4" height="1.4" fill="none" stroke="#555" stroke-width="0.4"/>
<rect x="165.3" y="304.6" width="14.899999999999977" height="39.89999999999998" fill="url(#g33)" stroke="#555" stroke-width="0.8" />
<line x1="165.3" y1="325" x2="180.2" y2="325" stroke="#333" stroke-width="1" />
<rect x="172.05" y="324.3" width="1.4" height="1.4" fill="none" stroke="#555" stroke-width="0.4"/>
<rect x="188.1" y="306.5" width="14.900000000000006" height="52.5" fill="url(#g34)" stroke="#555" stroke-width="0.8" />
<line x1="188.1" y1="345.2" x2="203" y2="345.2" stroke="#333" stroke-width="1" />
<rect x="194.85000000000002" y="336.0" width="1.4" height="1.4" fill="none" stroke="#555" stroke-width="0.4"/>
<rect x="24.9" y="234.7" width="182.29999999999998" height="146.90000000000003" fill="none" stroke="#8800ff" stroke-width="2.2"/>
<line x1="21.5" y1="361" x2="24.9" y2="361" stroke="#8800ff" stroke-width="1.4" />
<text x="19.5" y="364" font-size="8.2" fill="#8800ff" stroke="#8800ff" stroke-width="0.22" text-anchor="end"  style="">0</text>
<line x1="21.5" y1="319" x2="24.9" y2="319" stroke="#8800ff" stroke-width="1.4" />
<text x="19.5" y="322" font-size="8.2" fill="#8800ff" stroke="#8800ff" stroke-width="0.22" text-anchor="end"  style="">2</text>
<line x1="21.5" y1="277" x2="24.9" y2="277" stroke="#8800ff" stroke-width="1.4" />
<text x="19.5" y="280" font-size="8.2" fill="#8800ff" stroke="#8800ff" stroke-width="0.22" text-anchor="end"  style="">4</text>
<line x1="21.5" y1="235" x2="24.9" y2="235" stroke="#8800ff" stroke-width="1.4" />
<text x="19.5" y="238" font-size="8.2" fill="#8800ff" stroke="#8800ff" stroke-width="0.22" text-anchor="end"  style="">6</text>
<line x1="22.5" y1="340" x2="24.9" y2="340" stroke="#8800ff" stroke-width="1" />
<line x1="22.5" y1="298" x2="24.9" y2="298" stroke="#8800ff" stroke-width="1" />
<line x1="22.5" y1="256" x2="24.9" y2="256" stroke="#8800ff" stroke-width="1" />
<line x1="35.6" y1="381.6" x2="35.6" y2="385" stroke="#8800ff" stroke-width="1.4" />
<text x="35.6" y="393" font-size="8.2" fill="#8800ff" stroke="#8800ff" stroke-width="0.22" text-anchor="middle"  style="">2</text>
<line x1="58.7" y1="381.6" x2="58.7" y2="385" stroke="#8800ff" stroke-width="1.4" />
<text x="58.7" y="393" font-size="8.2" fill="#8800ff" stroke="#8800ff" stroke-width="0.22" text-anchor="middle"  style="">3</text>
<line x1="81.8" y1="381.6" x2="81.8" y2="385" stroke="#8800ff" stroke-width="1.4" />
<text x="81.8" y="393" font-size="8.2" fill="#8800ff" stroke="#8800ff" stroke-width="0.22" text-anchor="middle"  style="">4</text>
<line x1="104.9" y1="381.6" x2="104.9" y2="385" stroke="#8800ff" stroke-width="1.4" />
<text x="104.9" y="393" font-size="8.2" fill="#8800ff" stroke="#8800ff" stroke-width="0.22" text-anchor="middle"  style="">5</text>
<line x1="127.7" y1="381.6" x2="127.7" y2="385" stroke="#8800ff" stroke-width="1.4" />
<text x="127.7" y="393" font-size="8.2" fill="#8800ff" stroke="#8800ff" stroke-width="0.22" text-anchor="middle"  style="">6</text>
<line x1="150.2" y1="381.6" x2="150.2" y2="385" stroke="#8800ff" stroke-width="1.4" />
<text x="150.2" y="393" font-size="8.2" fill="#8800ff" stroke="#8800ff" stroke-width="0.22" text-anchor="middle"  style="">7</text>
<line x1="172.6" y1="381.6" x2="172.6" y2="385" stroke="#8800ff" stroke-width="1.4" />
<text x="172.6" y="393" font-size="8.2" fill="#8800ff" stroke="#8800ff" stroke-width="0.22" text-anchor="middle"  style="">8</text>
<line x1="195.4" y1="381.6" x2="195.4" y2="385" stroke="#8800ff" stroke-width="1.4" />
<text x="195.4" y="393" font-size="8.2" fill="#8800ff" stroke="#8800ff" stroke-width="0.22" text-anchor="middle"  style="">9</text>
<text x="114" y="403.2" font-size="9.1" fill="#8800ff" stroke="#8800ff" stroke-width="0.22" text-anchor="middle"  style="">pH</text>
<text x="0" y="0" font-size="9.2" fill="#8800ff" stroke="#8800ff" stroke-width="0.22" text-anchor="middle" dominant-baseline="central" transform="translate(9.2,307.5) rotate(-90)">Removal amount (mg)</text>
<rect x="265.1" y="343.8" width="15.5" height="18.69999999999999" fill="url(#g35)" stroke="#555" stroke-width="0.9" />
<line x1="265.1" y1="353.2" x2="280.6" y2="353.2" stroke="#333" stroke-width="1" />
<rect x="272.15000000000003" y="352.5" width="1.4" height="1.4" fill="none" stroke="#444" stroke-width="0.4"/>
<rect x="296.2" y="325.6" width="15.199999999999989" height="35.0" fill="url(#g36)" stroke="#555" stroke-width="0.9" />
<line x1="296.2" y1="343.1" x2="311.4" y2="343.1" stroke="#333" stroke-width="1" />
<rect x="303.09999999999997" y="342.40000000000003" width="1.4" height="1.4" fill="none" stroke="#444" stroke-width="0.4"/>
<rect x="327.7" y="311.6" width="14.800000000000011" height="44.599999999999966" fill="url(#g37)" stroke="#555" stroke-width="0.9" />
<line x1="327.7" y1="334.2" x2="342.5" y2="334.2" stroke="#333" stroke-width="1" />
<rect x="334.40000000000003" y="333.5" width="1.4" height="1.4" fill="none" stroke="#444" stroke-width="0.4"/>
<rect x="358.1" y="298" width="15.699999999999989" height="50.5" fill="url(#g38)" stroke="#555" stroke-width="0.9" />
<line x1="358.1" y1="323.3" x2="373.8" y2="323.3" stroke="#333" stroke-width="1" />
<rect x="365.25000000000006" y="322.6" width="1.4" height="1.4" fill="none" stroke="#444" stroke-width="0.4"/>
<rect x="389.2" y="248.5" width="15.199999999999989" height="86.0" fill="url(#g39)" stroke="#555" stroke-width="0.9" />
<line x1="389.2" y1="291.7" x2="404.4" y2="291.7" stroke="#333" stroke-width="1" />
<rect x="396.09999999999997" y="291.0" width="1.4" height="1.4" fill="none" stroke="#444" stroke-width="0.4"/>
<polyline points="272.8,256.7 303.7,284.5 335.2,313.5 365.6,338 393.6,358.8" fill="none" stroke="#5a94e4" stroke-width="2" stroke-dasharray="8.5,4.5,2.6,4.5"/>
<rect x="295.5" y="250.1" width="18.9" height="9.4" fill="url(#g40)" stroke="#555" stroke-width="0.8" />
<text x="316.8" y="257.8" font-size="8.2" fill="#8800ff" stroke="#8800ff" stroke-width="0.22" text-anchor="start"  style="">Removal amount</text>
<line x1="295" y1="267.9" x2="310.2" y2="267.9" stroke="#5a94e4" stroke-width="2" stroke-dasharray="8.5,4.5,2.6,4.5"/>
<text x="316.8" y="270.7" font-size="8.2" fill="#8800ff" stroke="#8800ff" stroke-width="0.22" text-anchor="start"  style="">Removal efficiency</text>
<rect x="242.1" y="235.2" width="186.4" height="148.8" fill="none" stroke="#8800ff" stroke-width="2.2"/>
<line x1="238.5" y1="366.0" x2="242.1" y2="366.0" stroke="#8800ff" stroke-width="1.4" />
<text x="236.5" y="369.0" font-size="8.2" fill="#8800ff" stroke="#8800ff" stroke-width="0.22" text-anchor="end"  style="">0</text>
<line x1="238.5" y1="328.25" x2="242.1" y2="328.25" stroke="#8800ff" stroke-width="1.4" />
<text x="236.5" y="331.25" font-size="8.2" fill="#8800ff" stroke="#8800ff" stroke-width="0.22" text-anchor="end"  style="">5</text>
<line x1="238.5" y1="290.5" x2="242.1" y2="290.5" stroke="#8800ff" stroke-width="1.4" />
<text x="236.5" y="293.5" font-size="8.2" fill="#8800ff" stroke="#8800ff" stroke-width="0.22" text-anchor="end"  style="">10</text>
<line x1="238.5" y1="252.75" x2="242.1" y2="252.75" stroke="#8800ff" stroke-width="1.4" />
<text x="236.5" y="255.75" font-size="8.2" fill="#8800ff" stroke="#8800ff" stroke-width="0.22" text-anchor="end"  style="">15</text>
<line x1="239.5" y1="347.125" x2="242.1" y2="347.125" stroke="#8800ff" stroke-width="1" />
<line x1="239.5" y1="309.375" x2="242.1" y2="309.375" stroke="#8800ff" stroke-width="1" />
<line x1="239.5" y1="271.625" x2="242.1" y2="271.625" stroke="#8800ff" stroke-width="1" />
<line x1="428.5" y1="235.2" x2="428.5" y2="385" stroke="#6414d6" stroke-width="2.2" />
<line x1="425.3" y1="383.8" x2="427.4" y2="383.8" stroke="#333" stroke-width="1.1" />
<text x="434" y="386.8" font-size="8.2" fill="#8800ff" stroke="#8800ff" stroke-width="0.22" text-anchor="start"  style="">20</text>
<line x1="425.3" y1="350.65000000000003" x2="427.4" y2="350.65000000000003" stroke="#333" stroke-width="1.1" />
<text x="434" y="353.65000000000003" font-size="8.2" fill="#8800ff" stroke="#8800ff" stroke-width="0.22" text-anchor="start"  style="">40</text>
<line x1="425.3" y1="317.5" x2="427.4" y2="317.5" stroke="#333" stroke-width="1.1" />
<text x="434" y="320.5" font-size="8.2" fill="#8800ff" stroke="#8800ff" stroke-width="0.22" text-anchor="start"  style="">60</text>
<line x1="425.3" y1="284.35" x2="427.4" y2="284.35" stroke="#333" stroke-width="1.1" />
<text x="434" y="287.35" font-size="8.2" fill="#8800ff" stroke="#8800ff" stroke-width="0.22" text-anchor="start"  style="">80</text>
<line x1="425.3" y1="251.20000000000002" x2="427.4" y2="251.20000000000002" stroke="#333" stroke-width="1.1" />
<text x="434" y="254.20000000000002" font-size="8.2" fill="#8800ff" stroke="#8800ff" stroke-width="0.22" text-anchor="start"  style="">100</text>
<line x1="426.2" y1="367.225" x2="427.4" y2="367.225" stroke="#777" stroke-width="0.8" />
<line x1="426.2" y1="334.075" x2="427.4" y2="334.075" stroke="#777" stroke-width="0.8" />
<line x1="426.2" y1="300.925" x2="427.4" y2="300.925" stroke="#777" stroke-width="0.8" />
<line x1="426.2" y1="267.77500000000003" x2="427.4" y2="267.77500000000003" stroke="#777" stroke-width="0.8" />
<line x1="272.9" y1="384" x2="272.9" y2="387.5" stroke="#8800ff" stroke-width="1.4" />
<text x="272.9" y="395.5" font-size="8.2" fill="#8800ff" stroke="#8800ff" stroke-width="0.22" text-anchor="middle"  style="">2</text>
<line x1="303.7" y1="384" x2="303.7" y2="387.5" stroke="#8800ff" stroke-width="1.4" />
<text x="303.7" y="395.5" font-size="8.2" fill="#8800ff" stroke="#8800ff" stroke-width="0.22" text-anchor="middle"  style="">5</text>
<line x1="335.2" y1="384" x2="335.2" y2="387.5" stroke="#8800ff" stroke-width="1.4" />
<text x="335.2" y="395.5" font-size="8.2" fill="#8800ff" stroke="#8800ff" stroke-width="0.22" text-anchor="middle"  style="">10</text>
<line x1="365.6" y1="384" x2="365.6" y2="387.5" stroke="#8800ff" stroke-width="1.4" />
<text x="365.6" y="395.5" font-size="8.2" fill="#8800ff" stroke="#8800ff" stroke-width="0.22" text-anchor="middle"  style="">20</text>
<line x1="396.7" y1="384" x2="396.7" y2="387.5" stroke="#8800ff" stroke-width="1.4" />
<text x="396.7" y="395.5" font-size="8.2" fill="#8800ff" stroke="#8800ff" stroke-width="0.22" text-anchor="middle"  style="">50</text>
<line x1="257.5" y1="384" x2="257.5" y2="386" stroke="#8800ff" stroke-width="1" />
<line x1="288.3" y1="384" x2="288.3" y2="386" stroke="#8800ff" stroke-width="1" />
<line x1="319.4" y1="384" x2="319.4" y2="386" stroke="#8800ff" stroke-width="1" />
<line x1="350.4" y1="384" x2="350.4" y2="386" stroke="#8800ff" stroke-width="1" />
<line x1="381.1" y1="384" x2="381.1" y2="386" stroke="#8800ff" stroke-width="1" />
<line x1="412.5" y1="384" x2="412.5" y2="386" stroke="#8800ff" stroke-width="1" />
<text x="335.2" y="407.6" font-size="9.1" fill="#8800ff" stroke="#8800ff" stroke-width="0.22" text-anchor="middle"  style="">Initial concentration of HMs</text>
<text x="0" y="0" font-size="9.2" fill="#8800ff" stroke="#8800ff" stroke-width="0.22" text-anchor="middle" dominant-baseline="central" transform="translate(222.9,308.5) rotate(-90)">Removal amount (mg)</text>
<text x="0" y="0" font-size="9.2" fill="#8800ff" stroke="#8800ff" stroke-width="0.22" text-anchor="middle" dominant-baseline="central" transform="translate(450.9,309) rotate(-90)">Removal efficiency (%)</text>
<line x1="521.7" y1="271.5" x2="521.7" y2="275.5" stroke="#444" stroke-width="0.8" />
<line x1="521.7" y1="300.5" x2="521.7" y2="303" stroke="#444" stroke-width="0.8" />
<line x1="518.7" y1="271.5" x2="524.7" y2="271.5" stroke="#444" stroke-width="0.8" />
<line x1="518.7" y1="303" x2="524.7" y2="303" stroke="#444" stroke-width="0.8" />
<rect x="514" y="275.5" width="15.399999999999977" height="25.0" fill="url(#g41)" stroke="#555" stroke-width="0.8" />
<line x1="514" y1="281.9" x2="529.4" y2="281.9" stroke="#333" stroke-width="1" />
<rect x="521.0" y="285.3" width="1.4" height="1.4" fill="none" stroke="#555" stroke-width="0.4"/>
<line x1="552.5" y1="248.6" x2="552.5" y2="277.3" stroke="#444" stroke-width="0.8" />
<line x1="552.5" y1="347.7" x2="552.5" y2="354.2" stroke="#444" stroke-width="0.8" />
<line x1="549.5" y1="248.6" x2="555.5" y2="248.6" stroke="#444" stroke-width="0.8" />
<line x1="549.5" y1="354.2" x2="555.5" y2="354.2" stroke="#444" stroke-width="0.8" />
<rect x="544.8" y="277.3" width="15.400000000000091" height="70.39999999999998" fill="url(#g42)" stroke="#555" stroke-width="0.8" />
<line x1="544.8" y1="300.5" x2="560.2" y2="300.5" stroke="#333" stroke-width="1" />
<rect x="551.8" y="303.3" width="1.4" height="1.4" fill="none" stroke="#555" stroke-width="0.4"/>
<rect x="575.9" y="261.2" width="15.399999999999977" height="118.80000000000001" fill="url(#g43)" stroke="#555" stroke-width="0.8" />
<line x1="575.9" y1="311.2" x2="591.3" y2="311.2" stroke="#333" stroke-width="1" />
<rect x="582.8999999999999" y="316.3" width="1.4" height="1.4" fill="none" stroke="#555" stroke-width="0.4"/>
<line x1="614.7" y1="258.3" x2="614.7" y2="264.7" stroke="#444" stroke-width="0.8" />
<line x1="614.7" y1="312.3" x2="614.7" y2="334.5" stroke="#444" stroke-width="0.8" />
<line x1="611.7" y1="258.3" x2="617.7" y2="258.3" stroke="#444" stroke-width="0.8" />
<line x1="611.7" y1="334.5" x2="617.7" y2="334.5" stroke="#444" stroke-width="0.8" />
<rect x="607" y="264.7" width="15.399999999999977" height="47.60000000000002" fill="url(#g44)" stroke="#555" stroke-width="0.8" />
<line x1="607" y1="301.2" x2="622.4" y2="301.2" stroke="#333" stroke-width="1" />
<rect x="614.0" y="293.90000000000003" width="1.4" height="1.4" fill="none" stroke="#555" stroke-width="0.4"/>
<line x1="645.6500000000001" y1="263.3" x2="645.6500000000001" y2="270.1" stroke="#444" stroke-width="0.8" />
<line x1="645.6500000000001" y1="294.4" x2="645.6500000000001" y2="298.7" stroke="#444" stroke-width="0.8" />
<line x1="642.6500000000001" y1="263.3" x2="648.6500000000001" y2="263.3" stroke="#444" stroke-width="0.8" />
<line x1="642.6500000000001" y1="298.7" x2="648.6500000000001" y2="298.7" stroke="#444" stroke-width="0.8" />
<rect x="638.1" y="270.1" width="15.100000000000023" height="24.299999999999955" fill="url(#g45)" stroke="#555" stroke-width="0.8" />
<line x1="638.1" y1="283.3" x2="653.2" y2="283.3" stroke="#333" stroke-width="1" />
<rect x="644.95" y="281.3" width="1.4" height="1.4" fill="none" stroke="#555" stroke-width="0.4"/>
<rect x="491.1" y="235" width="185.69999999999993" height="149.60000000000002" fill="none" stroke="#8800ff" stroke-width="2.2"/>
<line x1="487.5" y1="384.6" x2="491.1" y2="384.6" stroke="#8800ff" stroke-width="1.4" />
<text x="485.5" y="387.6" font-size="8.2" fill="#8800ff" stroke="#8800ff" stroke-width="0.22" text-anchor="end"  style="">0</text>
<line x1="487.5" y1="316.6" x2="491.1" y2="316.6" stroke="#8800ff" stroke-width="1.4" />
<text x="485.5" y="319.6" font-size="8.2" fill="#8800ff" stroke="#8800ff" stroke-width="0.22" text-anchor="end"  style="">50</text>
<line x1="487.5" y1="248.60000000000002" x2="491.1" y2="248.60000000000002" stroke="#8800ff" stroke-width="1.4" />
<text x="485.5" y="251.60000000000002" font-size="8.2" fill="#8800ff" stroke="#8800ff" stroke-width="0.22" text-anchor="end"  style="">100</text>
<line x1="488.5" y1="350.6" x2="491.1" y2="350.6" stroke="#8800ff" stroke-width="1" />
<line x1="488.5" y1="282.6" x2="491.1" y2="282.6" stroke="#8800ff" stroke-width="1" />
<line x1="521.2" y1="384.6" x2="521.2" y2="388" stroke="#8800ff" stroke-width="1.4" />
<text x="521.2" y="395.5" font-size="8.2" fill="#8800ff" stroke="#8800ff" stroke-width="0.22" text-anchor="middle"  style="">Cu</text>
<line x1="552.3" y1="384.6" x2="552.3" y2="388" stroke="#8800ff" stroke-width="1.4" />
<text x="552.3" y="395.5" font-size="8.2" fill="#8800ff" stroke="#8800ff" stroke-width="0.22" text-anchor="middle"  style="">Cr</text>
<line x1="583" y1="384.6" x2="583" y2="388" stroke="#8800ff" stroke-width="1.4" />
<text x="583" y="395.5" font-size="8.2" fill="#8800ff" stroke="#8800ff" stroke-width="0.22" text-anchor="middle"  style="">Ni</text>
<line x1="614.2" y1="384.6" x2="614.2" y2="388" stroke="#8800ff" stroke-width="1.4" />
<text x="614.2" y="395.5" font-size="8.2" fill="#8800ff" stroke="#8800ff" stroke-width="0.22" text-anchor="middle"  style="">Cd</text>
<line x1="645.3" y1="384.6" x2="645.3" y2="388" stroke="#8800ff" stroke-width="1.4" />
<text x="645.3" y="395.5" font-size="8.2" fill="#8800ff" stroke="#8800ff" stroke-width="0.22" text-anchor="middle"  style="">Pb</text>
<text x="583" y="407.6" font-size="9.1" fill="#8800ff" stroke="#8800ff" stroke-width="0.22" text-anchor="middle"  style="">Types of HMs</text>
<text x="0" y="0" font-size="9.2" fill="#8800ff" stroke="#8800ff" stroke-width="0.22" text-anchor="middle" dominant-baseline="central" transform="translate(466.6,309.8) rotate(-90)">Removal efficiency (%)</text>
<rect x="28" y="571.13" width="17.9" height="15.870000000000005" fill="url(#g47)" stroke="none" stroke-width="0" />
<rect x="57.5" y="571.13" width="17.799999999999997" height="15.870000000000005" fill="url(#g48)" stroke="none" stroke-width="0" />
<rect x="87.3" y="460.04" width="18.200000000000003" height="126.95999999999998" fill="url(#g49)" stroke="none" stroke-width="0" />
<rect x="117.2" y="571.13" width="17.799999999999997" height="15.870000000000005" fill="url(#g50)" stroke="none" stroke-width="0" />
<rect x="147" y="571.13" width="17.80000000000001" height="15.870000000000005" fill="url(#g51)" stroke="none" stroke-width="0" />
<rect x="177.2" y="507.65" width="17.80000000000001" height="79.35000000000002" fill="url(#g52)" stroke="none" stroke-width="0" />
<path d="M36.60,484.80 C41.78,482.42 57.47,475.30 67.70,470.50 C77.93,465.70 90.62,457.88 98.00,456.00 C105.38,454.12 107.33,457.90 112.00,459.20 C116.67,460.50 119.05,461.83 126.00,463.80 C132.95,465.77 143.63,468.60 153.70,471.00 C163.77,473.40 180.95,477.00 186.40,478.20" fill="none" stroke="#9436e6" stroke-width="1.8"/>
<circle cx="97.7" cy="456" r="2.7" fill="#6aa4dc"/>
<text x="104" y="453.2" font-size="8.2" fill="#8800ff" stroke="#8800ff" stroke-width="0.22" text-anchor="middle"  style="">Optimal Temperature</text>
<rect x="25.5" y="490.8" width="18.4" height="8.7" fill="url(#g53)" stroke="none" stroke-width="0" />
<text x="46.6" y="498.1" font-size="8.2" fill="#8800ff" stroke="#8800ff" stroke-width="0.22" text-anchor="start"  style="">Count of optimal temperature</text>
<line x1="25.5" y1="510" x2="44.4" y2="510" stroke="#9436e6" stroke-width="1.8" />
<text x="46.6" y="512.6" font-size="8.2" fill="#8800ff" stroke="#8800ff" stroke-width="0.22" text-anchor="start"  style="">Removal efficiency</text>
<rect x="21.7" y="444.3" width="179.20000000000002" height="142.49999999999994" fill="none" stroke="#8800ff" stroke-width="2.2"/>
<line x1="18.2" y1="587.0" x2="21.7" y2="587.0" stroke="#8800ff" stroke-width="1.4" />
<text x="16.5" y="590.0" font-size="8.2" fill="#8800ff" stroke="#8800ff" stroke-width="0.22" text-anchor="end"  style="">0</text>
<line x1="19.5" y1="579.065" x2="21.7" y2="579.065" stroke="#8800ff" stroke-width="1" />
<line x1="18.2" y1="571.13" x2="21.7" y2="571.13" stroke="#8800ff" stroke-width="1.4" />
<text x="16.5" y="574.13" font-size="8.2" fill="#8800ff" stroke="#8800ff" stroke-width="0.22" text-anchor="end"  style="">1</text>
<line x1="19.5" y1="563.195" x2="21.7" y2="563.195" stroke="#8800ff" stroke-width="1" />
<line x1="18.2" y1="555.26" x2="21.7" y2="555.26" stroke="#8800ff" stroke-width="1.4" />
<text x="16.5" y="558.26" font-size="8.2" fill="#8800ff" stroke="#8800ff" stroke-width="0.22" text-anchor="end"  style="">2</text>
<line x1="19.5" y1="547.325" x2="21.7" y2="547.325" stroke="#8800ff" stroke-width="1" />
<line x1="18.2" y1="539.39" x2="21.7" y2="539.39" stroke="#8800ff" stroke-width="1.4" />
<text x="16.5" y="542.39" font-size="8.2" fill="#8800ff" stroke="#8800ff" stroke-width="0.22" text-anchor="end"  style="">3</text>
<line x1="19.5" y1="531.455" x2="21.7" y2="531.455" stroke="#8800ff" stroke-width="1" />
<line x1="18.2" y1="523.52" x2="21.7" y2="523.52" stroke="#8800ff" stroke-width="1.4" />
<text x="16.5" y="526.52" font-size="8.2" fill="#8800ff" stroke="#8800ff" stroke-width="0.22" text-anchor="end"  style="">4</text>
<line x1="19.5" y1="515.585" x2="21.7" y2="515.585" stroke="#8800ff" stroke-width="1" />
<line x1="18.2" y1="507.65" x2="21.7" y2="507.65" stroke="#8800ff" stroke-width="1.4" />
<text x="16.5" y="510.65" font-size="8.2" fill="#8800ff" stroke="#8800ff" stroke-width="0.22" text-anchor="end"  style="">5</text>
<line x1="19.5" y1="499.71500000000003" x2="21.7" y2="499.71500000000003" stroke="#8800ff" stroke-width="1" />
<line x1="18.2" y1="491.78" x2="21.7" y2="491.78" stroke="#8800ff" stroke-width="1.4" />
<text x="16.5" y="494.78" font-size="8.2" fill="#8800ff" stroke="#8800ff" stroke-width="0.22" text-anchor="end"  style="">6</text>
<line x1="19.5" y1="483.845" x2="21.7" y2="483.845" stroke="#8800ff" stroke-width="1" />
<line x1="18.2" y1="475.91" x2="21.7" y2="475.91" stroke="#8800ff" stroke-width="1.4" />
<text x="16.5" y="478.91" font-size="8.2" fill="#8800ff" stroke="#8800ff" stroke-width="0.22" text-anchor="end"  style="">7</text>
<line x1="19.5" y1="467.975" x2="21.7" y2="467.975" stroke="#8800ff" stroke-width="1" />
<line x1="18.2" y1="460.04" x2="21.7" y2="460.04" stroke="#8800ff" stroke-width="1.4" />
<text x="16.5" y="463.04" font-size="8.2" fill="#8800ff" stroke="#8800ff" stroke-width="0.22" text-anchor="end"  style="">8</text>
<line x1="19.5" y1="452.105" x2="21.7" y2="452.105" stroke="#8800ff" stroke-width="1" />
<line x1="18.2" y1="444.17" x2="21.7" y2="444.17" stroke="#8800ff" stroke-width="1.4" />
<text x="16.5" y="447.17" font-size="8.2" fill="#8800ff" stroke="#8800ff" stroke-width="0.22" text-anchor="end"  style="">9</text>
<line x1="36.4" y1="586.8" x2="36.4" y2="590.3" stroke="#8800ff" stroke-width="1.4" />
<text x="36.4" y="598" font-size="8.2" fill="#8800ff" stroke="#8800ff" stroke-width="0.22" text-anchor="middle"  style="">23</text>
<line x1="66.6" y1="586.8" x2="66.6" y2="590.3" stroke="#8800ff" stroke-width="1.4" />
<text x="66.6" y="598" font-size="8.2" fill="#8800ff" stroke="#8800ff" stroke-width="0.22" text-anchor="middle"  style="">24</text>
<line x1="96.4" y1="586.8" x2="96.4" y2="590.3" stroke="#8800ff" stroke-width="1.4" />
<text x="96.4" y="598" font-size="8.2" fill="#8800ff" stroke="#8800ff" stroke-width="0.22" text-anchor="middle"  style="">25</text>
<line x1="126.3" y1="586.8" x2="126.3" y2="590.3" stroke="#8800ff" stroke-width="1.4" />
<text x="126.3" y="598" font-size="8.2" fill="#8800ff" stroke="#8800ff" stroke-width="0.22" text-anchor="middle"  style="">26</text>
<line x1="156.5" y1="586.8" x2="156.5" y2="590.3" stroke="#8800ff" stroke-width="1.4" />
<text x="156.5" y="598" font-size="8.2" fill="#8800ff" stroke="#8800ff" stroke-width="0.22" text-anchor="middle"  style="">28</text>
<line x1="185.6" y1="586.8" x2="185.6" y2="590.3" stroke="#8800ff" stroke-width="1.4" />
<text x="185.6" y="598" font-size="8.2" fill="#8800ff" stroke="#8800ff" stroke-width="0.22" text-anchor="middle"  style="">30</text>
<text x="111.2" y="608.2" font-size="8.9" fill="#8800ff" stroke="#8800ff" stroke-width="0.22" text-anchor="middle"  style="">Temperature (°C)</text>
<text x="0" y="0" font-size="8.85" fill="#8800ff" stroke="#8800ff" stroke-width="0.22" text-anchor="middle" dominant-baseline="central" transform="translate(5.8,516) rotate(-90)">Count of optimal temperature (times)</text>
<text x="0" y="0" font-size="9" fill="#8800ff" stroke="#8800ff" stroke-width="0.22" text-anchor="middle" dominant-baseline="central" transform="translate(210.5,516) rotate(-90)">Removal efficiency</text>
<rect x="244.7" y="564.8" width="23.0" height="25.700000000000045" fill="url(#g54)" stroke="none" stroke-width="0" />
<rect x="283" y="539.7" width="23" height="50.799999999999955" fill="url(#g55)" stroke="none" stroke-width="0" />
<rect x="321" y="507.8" width="23" height="82.69999999999999" fill="url(#g56)" stroke="none" stroke-width="0" />
<rect x="359.4" y="539.7" width="23.0" height="50.799999999999955" fill="url(#g57)" stroke="none" stroke-width="0" />
<rect x="397.7" y="564.8" width="23.0" height="25.700000000000045" fill="url(#g58)" stroke="none" stroke-width="0" />
<rect x="236.8" y="439.4" width="191.0" height="151.20000000000005" fill="none" stroke="#8800ff" stroke-width="2.2"/>
<line x1="256.2" y1="590.6" x2="256.2" y2="594" stroke="#8800ff" stroke-width="1.4" />
<text x="256.2" y="602.8" font-size="8.6" fill="#8800ff" stroke="#8800ff" stroke-width="0.22" text-anchor="middle"  style="">A</text>
<line x1="294.5" y1="590.6" x2="294.5" y2="594" stroke="#8800ff" stroke-width="1.4" />
<text x="294.5" y="602.8" font-size="8.6" fill="#8800ff" stroke="#8800ff" stroke-width="0.22" text-anchor="middle"  style="">B</text>
<line x1="332.5" y1="590.6" x2="332.5" y2="594" stroke="#8800ff" stroke-width="1.4" />
<text x="332.5" y="602.8" font-size="8.6" fill="#8800ff" stroke="#8800ff" stroke-width="0.22" text-anchor="middle"  style="">C</text>
<line x1="370.9" y1="590.6" x2="370.9" y2="594" stroke="#8800ff" stroke-width="1.4" />
<text x="370.9" y="602.8" font-size="8.6" fill="#8800ff" stroke="#8800ff" stroke-width="0.22" text-anchor="middle"  style="">D</text>
<line x1="409.2" y1="590.6" x2="409.2" y2="594" stroke="#8800ff" stroke-width="1.4" />
<text x="409.2" y="602.8" font-size="8.6" fill="#8800ff" stroke="#8800ff" stroke-width="0.22" text-anchor="middle"  style="">E</text>
<text x="337.3" y="505.2" font-size="8.8" fill="#8800ff" stroke="#8800ff" stroke-width="0.22" text-anchor="middle"  style="">Optimal Carbon Source</text>
<text x="332.7" y="613.6" font-size="9.5" fill="#8800ff" stroke="#8800ff" stroke-width="0.22" text-anchor="middle"  style="">Carbon Source Types</text>
<text x="0" y="0" font-size="9" fill="#8800ff" stroke="#8800ff" stroke-width="0.22" text-anchor="middle" dominant-baseline="central" transform="translate(227,514) rotate(-90)">Removal efficiency</text>
<path d="M281,462.5 L291,464.5 L290,462 L297,466.5 L290,471 L291,468.5 L281,470.5" fill="none" stroke="#34449a" stroke-width="0.6"/>
<path d="M377.5,461 L368,463 L369,460.5 L361.5,465 L369,469.5 L368,467 L377.5,469" fill="none" stroke="#34449a" stroke-width="0.6"/>
<path d="M304.10,450.56 Q305.21,446.38 306.81,450.06 L308.20,453.27 Q309.20,455.57 311.70,454.45 L315.20,452.88 Q319.21,451.09 316.81,455.30 L314.70,458.98 Q313.20,461.61 314.39,464.09 L316.05,467.57 Q317.95,471.54 313.93,470.04 L310.42,468.74 Q307.91,467.80 305.99,469.32 L303.30,471.44 Q300.23,473.86 300.56,470.04 L300.84,466.69 Q301.05,464.31 298.94,462.98 L295.99,461.12 Q292.62,459.00 296.55,458.13 L299.98,457.36 Q302.44,456.82 303.13,454.21 Z" fill="#93c190"/>
<path d="M350.29,450.06 Q351.89,446.38 353.00,450.56 L353.97,454.21 Q354.66,456.82 357.12,457.36 L360.55,458.13 Q364.48,459.00 361.11,461.12 L358.16,462.98 Q356.05,464.31 356.26,466.69 L356.54,470.04 Q356.87,473.86 353.80,471.44 L351.11,469.32 Q349.19,467.80 346.68,468.74 L343.17,470.04 Q339.15,471.54 341.05,467.57 L342.71,464.09 Q343.90,461.61 342.40,458.98 L340.29,455.30 Q337.89,451.09 341.90,452.88 L345.40,454.45 Q347.90,455.57 348.90,453.27 Z" fill="#dcb0f8"/>
<path d="M303,458 q3,-2 5,1 q-2,2 -1,4 q-3,1 -4,-2 z" fill="#fff" opacity="0.85"/>
<path d="M348,458 q3,-1 5,2 q-2,2 -1,4 q-3,0 -4,-3 z" fill="#fff" opacity="0.85"/>
<path d="M317.5,464 C317.5,457 325,455 329,457 C334,455 340,457.5 339.5,464 C340,471 333,475 328,473.5 C322,475 317.5,471 317.5,464 Z M322.5,465 C323,469 327,470 329,468.5 C332,470 335.5,467.5 335,464 C335,461 331,460 329,461.5 C326,460 322.5,461 322.5,465 Z" fill="url(#hatch)" fill-rule="evenodd" stroke="#6a90dc" stroke-width="0.4"/>
<text x="264.6" y="461.8" font-size="5.2" fill="#34449a" stroke="#34449a" stroke-width="0.08" text-anchor="middle"  style="">Inorganic carbon</text>
<text x="265.5" y="467.8" font-size="5.2" fill="#34449a" stroke="#34449a" stroke-width="0.08" text-anchor="middle"  style="">Simple organic</text>
<text x="265" y="474" font-size="5.2" fill="#34449a" stroke="#34449a" stroke-width="0.08" text-anchor="middle"  style="">carbon</text>
<text x="308.7" y="478" font-size="5.2" fill="#34449a" stroke="#34449a" stroke-width="0.08" text-anchor="middle"  style="">Agale</text>
<text x="307.5" y="483" font-size="5.2" fill="#34449a" stroke="#34449a" stroke-width="0.08" text-anchor="middle"  style="">Photosynthesis</text>
<text x="352" y="478" font-size="5.2" fill="#34449a" stroke="#34449a" stroke-width="0.08" text-anchor="middle"  style="">Bacteria</text>
<text x="352.5" y="483" font-size="5.2" fill="#34449a" stroke="#34449a" stroke-width="0.08" text-anchor="middle"  style="">Catabolism</text>
<text x="389" y="465.4" font-size="5.2" fill="#34449a" stroke="#34449a" stroke-width="0.08" text-anchor="middle"  style="">Complex</text>
<text x="388" y="471.6" font-size="5.2" fill="#34449a" stroke="#34449a" stroke-width="0.08" text-anchor="middle"  style="">organic carbon</text>
<text x="328.5" y="455" font-size="4.6" fill="#34449a" stroke="#34449a" stroke-width="0.08" text-anchor="middle"  style="">O<tspan font-size="3" dy="1">2</tspan></text>
<text x="329.7" y="479" font-size="4.6" fill="#34449a" stroke="#34449a" stroke-width="0.08" text-anchor="middle"  style="">CO<tspan font-size="3" dy="1">2</tspan></text>
<line x1="524.4" y1="438" x2="524.4" y2="590" stroke="#b4b4b4" stroke-width="1" />
<line x1="572.2" y1="438" x2="572.2" y2="590" stroke="#b4b4b4" stroke-width="1" />
<line x1="619.8" y1="438" x2="619.8" y2="590" stroke="#b4b4b4" stroke-width="1" />
<rect x="483.3" y="527.9" width="8.5" height="5.7000000000000455" fill="url(#g59)" stroke="#9a4ef0" stroke-width="0.8" />
<line x1="483.3" y1="530.8" x2="491.8" y2="530.8" stroke="#9a4ef0" stroke-width="0.9" />
<rect x="496" y="523.4" width="8.600000000000023" height="14.200000000000045" fill="url(#g60)" stroke="#e860c0" stroke-width="0.8" />
<line x1="496" y1="536.5" x2="504.6" y2="536.5" stroke="#e860c0" stroke-width="0.9" />
<rect x="508.4" y="468.2" width="9.100000000000023" height="55.69999999999999" fill="url(#g61)" stroke="#d8c860" stroke-width="0.8" />
<line x1="508.4" y1="501.3" x2="517.5" y2="501.3" stroke="#d8c860" stroke-width="0.9" />
<rect x="531" y="567" width="8.600000000000023" height="4.5" fill="url(#g62)" stroke="#9a5ef0" stroke-width="0.8" />
<line x1="531" y1="569.2" x2="539.6" y2="569.2" stroke="#9a5ef0" stroke-width="0.9" />
<rect x="543.8" y="520" width="8.600000000000023" height="47.39999999999998" fill="url(#g63)" stroke="#e860c0" stroke-width="0.8" />
<line x1="543.8" y1="549.4" x2="552.4" y2="549.4" stroke="#e860c0" stroke-width="0.9" />
<rect x="556.5" y="475" width="8.5" height="96.5" fill="url(#g64)" stroke="#d8c860" stroke-width="0.8" />
<line x1="556.5" y1="567.4" x2="565" y2="567.4" stroke="#d8c860" stroke-width="0.9" />
<rect x="579" y="551" width="8.600000000000023" height="20.299999999999955" fill="url(#g65)" stroke="#9a5ef0" stroke-width="0.8" />
<line x1="579" y1="570.6" x2="587.6" y2="570.6" stroke="#9a5ef0" stroke-width="0.9" />
<rect x="591.4" y="549" width="8.600000000000023" height="22.299999999999955" fill="url(#g66)" stroke="#e860c0" stroke-width="0.8" />
<line x1="591.4" y1="557.8" x2="600" y2="557.8" stroke="#e860c0" stroke-width="0.9" />
<rect x="604.2" y="526.3" width="8.599999999999909" height="44.30000000000007" fill="url(#g67)" stroke="#d8c860" stroke-width="0.8" />
<line x1="604.2" y1="543.6" x2="612.8" y2="543.6" stroke="#d8c860" stroke-width="0.9" />
<rect x="626.3" y="529.4" width="9.5" height="41.89999999999998" fill="url(#g68)" stroke="#9a5ef0" stroke-width="0.8" />
<line x1="626.3" y1="570.5" x2="635.8" y2="570.5" stroke="#9a5ef0" stroke-width="0.9" />
<rect x="639.4" y="563" width="8.600000000000023" height="8.799999999999955" fill="url(#g69)" stroke="#e860c0" stroke-width="0.8" />
<line x1="639.4" y1="567.7" x2="648" y2="567.7" stroke="#e860c0" stroke-width="0.9" />
<rect x="652.2" y="528.3" width="8.599999999999909" height="39.0" fill="url(#g70)" stroke="#d8c860" stroke-width="0.8" />
<line x1="652.2" y1="550.4" x2="660.8" y2="550.4" stroke="#d8c860" stroke-width="0.9" />
<rect x="475.9" y="437" width="191.89999999999998" height="154" fill="none" stroke="#8800ff" stroke-width="2.2"/>
<line x1="472.4" y1="572.0" x2="475.9" y2="572.0" stroke="#8800ff" stroke-width="1.4" />
<text x="470.5" y="575.0" font-size="8.2" fill="#8800ff" stroke="#8800ff" stroke-width="0.22" text-anchor="end"  style="">0</text>
<line x1="472.4" y1="547.92" x2="475.9" y2="547.92" stroke="#8800ff" stroke-width="1.4" />
<text x="470.5" y="550.92" font-size="8.2" fill="#8800ff" stroke="#8800ff" stroke-width="0.22" text-anchor="end"  style="">50</text>
<line x1="472.4" y1="523.84" x2="475.9" y2="523.84" stroke="#8800ff" stroke-width="1.4" />
<text x="470.5" y="526.84" font-size="8.2" fill="#8800ff" stroke="#8800ff" stroke-width="0.22" text-anchor="end"  style="">100</text>
<line x1="472.4" y1="499.76" x2="475.9" y2="499.76" stroke="#8800ff" stroke-width="1.4" />
<text x="470.5" y="502.76" font-size="8.2" fill="#8800ff" stroke="#8800ff" stroke-width="0.22" text-anchor="end"  style="">150</text>
<line x1="472.4" y1="475.68" x2="475.9" y2="475.68" stroke="#8800ff" stroke-width="1.4" />
<text x="470.5" y="478.68" font-size="8.2" fill="#8800ff" stroke="#8800ff" stroke-width="0.22" text-anchor="end"  style="">200</text>
<line x1="472.4" y1="451.6" x2="475.9" y2="451.6" stroke="#8800ff" stroke-width="1.4" />
<text x="470.5" y="454.6" font-size="8.2" fill="#8800ff" stroke="#8800ff" stroke-width="0.22" text-anchor="end"  style="">250</text>
<line x1="473.5" y1="559.96" x2="475.9" y2="559.96" stroke="#8800ff" stroke-width="1" />
<line x1="473.5" y1="535.88" x2="475.9" y2="535.88" stroke="#8800ff" stroke-width="1" />
<line x1="473.5" y1="511.8" x2="475.9" y2="511.8" stroke="#8800ff" stroke-width="1" />
<line x1="473.5" y1="487.72" x2="475.9" y2="487.72" stroke="#8800ff" stroke-width="1" />
<line x1="473.5" y1="463.64" x2="475.9" y2="463.64" stroke="#8800ff" stroke-width="1" />
<text x="498.9" y="601.4" font-size="8.6" fill="#8800ff" stroke="#8800ff" stroke-width="0.22" text-anchor="middle"  style="">Brown algae</text>
<text x="546.3" y="601.4" font-size="8.6" fill="#8800ff" stroke="#8800ff" stroke-width="0.22" text-anchor="middle"  style="">Red algae</text>
<text x="594.5" y="601.4" font-size="8.6" fill="#8800ff" stroke="#8800ff" stroke-width="0.22" text-anchor="middle"  style="">Green algae</text>
<text x="641.9" y="601.4" font-size="8.6" fill="#8800ff" stroke="#8800ff" stroke-width="0.22" text-anchor="middle"  style="">Blue algae</text>
<text x="563.5" y="616" font-size="9.3" fill="#8800ff" stroke="#8800ff" stroke-width="0.22" text-anchor="middle"  style="">Algal species</text>
<text x="0" y="0" font-size="9.2" fill="#8800ff" stroke="#8800ff" stroke-width="0.22" text-anchor="middle" dominant-baseline="central" transform="translate(451.4,515.4) rotate(-90)">Removal amount (mg)</text>
<rect x="624" y="446.3" width="19.6" height="9.8" fill="url(#g71)" stroke="#9a5ef0" stroke-width="0.8" />
<text x="646" y="454.5" font-size="8.6" fill="#8800ff" stroke="#8800ff" stroke-width="0.22" text-anchor="start"  style="">Cd</text>
<rect x="624" y="457.6" width="19.6" height="9.8" fill="url(#g72)" stroke="#e860c0" stroke-width="0.8" />
<text x="646" y="465.8" font-size="8.6" fill="#8800ff" stroke="#8800ff" stroke-width="0.22" text-anchor="start"  style="">Cr</text>
<rect x="624" y="468.4" width="19.6" height="9.8" fill="url(#g73)" stroke="#d8c860" stroke-width="0.8" />
<text x="646" y="476.59999999999997" font-size="8.6" fill="#8800ff" stroke="#8800ff" stroke-width="0.22" text-anchor="start"  style="">Pd</text>
<path d="M-2.2,-17.0 Q0,-18.400000000000002 2.2,-17.0 C9.35,-8.9 18.7,-0.8900000000000001 18.7,5.34 C18.7,14.240000000000002 10.285,17.8 0,17.8 C-10.285,17.8 -18.7,14.240000000000002 -18.7,5.34 C-18.7,-0.8900000000000001 -9.35,-8.9 -2.2,-17.0 Z" fill="#cdf2c6" stroke="#b2e2aa" stroke-width="0.8" transform="translate(112.78,43.88) rotate(179.2)"/>
<path d="M-2.2,-16.95 Q0,-18.35 2.2,-16.95 C9.625,-8.875 19.25,-0.8875000000000001 19.25,5.325 C19.25,14.200000000000001 10.5875,17.75 0,17.75 C-10.5875,17.75 -19.25,14.200000000000001 -19.25,5.325 C-19.25,-0.8875000000000001 -9.625,-8.875 -2.2,-16.95 Z" fill="#7d9ed3" stroke="#6b8dc4" stroke-width="0.8" transform="translate(158.36,64.27) rotate(-136.4)"/>
<path d="M-2.2,-17.349999999999998 Q0,-18.75 2.2,-17.349999999999998 C9.175,-9.075 18.35,-0.9075 18.35,5.444999999999999 C18.35,14.52 10.092500000000001,18.15 0,18.15 C-10.092500000000001,18.15 -18.35,14.52 -18.35,5.444999999999999 C-18.35,-0.9075 -9.175,-9.075 -2.2,-17.349999999999998 Z" fill="#c8eef9" stroke="#a4d5ec" stroke-width="0.8" transform="translate(179.12,113.07) rotate(-88.6)"/>
<path d="M-2.2,-17.2 Q0,-18.6 2.2,-17.2 C9.75,-9.0 19.5,-0.9 19.5,5.3999999999999995 C19.5,14.4 10.725000000000001,18.0 0,18.0 C-10.725000000000001,18.0 -19.5,14.4 -19.5,5.3999999999999995 C-19.5,-0.9 -9.75,-9.0 -2.2,-17.2 Z" fill="#bbecf2" stroke="#96d9e3" stroke-width="0.8" transform="translate(158.11,159.33) rotate(-43.3)"/>
<path d="M-2.2,-16.75 Q0,-18.150000000000002 2.2,-16.75 C9.3,-8.775 18.6,-0.8775000000000001 18.6,5.265 C18.6,14.040000000000001 10.230000000000002,17.55 0,17.55 C-10.230000000000002,17.55 -18.6,14.040000000000001 -18.6,5.265 C-18.6,-0.8775000000000001 -9.3,-8.775 -2.2,-16.75 Z" fill="#a4d0a0" stroke="#89ba86" stroke-width="0.8" transform="translate(112.23,178.02) rotate(1.4)"/>
<path d="M-2.2,-17.2 Q0,-18.6 2.2,-17.2 C9.75,-9.0 19.5,-0.9 19.5,5.3999999999999995 C19.5,14.4 10.725000000000001,18.0 0,18.0 C-10.725000000000001,18.0 -19.5,14.4 -19.5,5.3999999999999995 C-19.5,-0.9 -9.75,-9.0 -2.2,-17.2 Z" fill="#69a99d" stroke="#5b9a8f" stroke-width="0.8" transform="translate(67.90,157.85) rotate(44.8)"/>
<path d="M-2.2,-16.349999999999998 Q0,-17.75 2.2,-16.349999999999998 C8.925,-8.575 17.85,-0.8574999999999999 17.85,5.145 C17.85,13.719999999999999 9.8175,17.15 0,17.15 C-9.8175,17.15 -17.85,13.719999999999999 -17.85,5.145 C-17.85,-0.8574999999999999 -8.925,-8.575 -2.2,-16.349999999999998 Z" fill="#98cbc2" stroke="#80b7ad" stroke-width="0.8" transform="translate(43.88,112.53) rotate(89.2)"/>
<path d="M-2.2,-16.7 Q0,-18.1 2.2,-16.7 C9.5,-8.75 19.0,-0.875 19.0,5.25 C19.0,14.0 10.450000000000001,17.5 0,17.5 C-10.450000000000001,17.5 -19.0,14.0 -19.0,5.25 C-19.0,-0.875 -9.5,-8.75 -2.2,-16.7 Z" fill="#abe3ca" stroke="#90cfb2" stroke-width="0.8" transform="translate(67.46,65.59) rotate(134.9)"/>
<path d="M64.5,102.9 A50,50 0 0 1 162.9,102.9 L151.1,105.0 A38,38 0 0 0 76.3,105.0 Z" fill="url(#ringT)"/>
<path d="M139.5,104 L166.5,101.3 L156,120 Z" fill="#e8f8dc"/>
<path d="M162.4,122.8 A50,50 0 0 1 63.8,115.1 L75.8,114.3 A38,38 0 0 0 150.7,120.1 Z" fill="url(#ringB)"/>
<path d="M54.5,114.6 L70.6,99.6 L84.5,116.8 Z" fill="#e2f7d2"/>
<path d="M91.92,83.04 Q94.84,76.55 97.72,82.07 L98.59,83.73 Q100.61,87.60 105.25,86.08 L107.23,85.44 Q113.86,83.28 110.48,90.62 L109.46,92.83 Q107.09,97.97 108.60,102.91 L109.25,105.03 Q111.41,112.09 104.60,110.14 L102.56,109.56 Q97.80,108.19 93.88,110.33 L92.20,111.25 Q86.60,114.30 86.58,108.23 L86.57,106.40 Q86.55,102.15 83.12,99.44 L81.65,98.28 Q76.74,94.40 82.87,91.97 L84.71,91.24 Q89.00,89.54 91.04,84.99 Z" fill="#8fc08c"/>
<path d="M128.88,82.07 Q131.76,76.55 134.68,83.04 L135.56,84.99 Q137.60,89.54 141.89,91.24 L143.73,91.97 Q149.86,94.40 144.95,98.28 L143.48,99.44 Q140.05,102.15 140.03,106.40 L140.02,108.23 Q140.00,114.30 134.40,111.25 L132.72,110.33 Q128.80,108.19 124.04,109.56 L122.00,110.14 Q115.19,112.09 117.35,105.03 L118.00,102.91 Q119.51,97.97 117.14,92.83 L116.12,90.62 Q112.74,83.28 119.37,85.44 L121.35,86.08 Q125.99,87.60 128.01,83.73 Z" fill="#dcb3f7"/>
<ellipse cx="95.30" cy="94.80" rx="2.6" ry="4.6" fill="#fff" transform="rotate(25 95.30 94.80)"/>
<ellipse cx="96.30" cy="94.20" rx="1.2" ry="2.6" fill="#8fc08c" opacity="0.75" transform="rotate(25 96.30 94.20)"/>
<ellipse cx="100.00" cy="92.60" rx="2.6" ry="4.6" fill="#fff" transform="rotate(25 100.00 92.60)"/>
<ellipse cx="101.00" cy="92.00" rx="1.2" ry="2.6" fill="#8fc08c" opacity="0.75" transform="rotate(25 101.00 92.00)"/>
<ellipse cx="124.80" cy="94.50" rx="2.6" ry="4.6" fill="#fff" transform="rotate(-25 124.80 94.50)"/>
<ellipse cx="125.80" cy="93.90" rx="1.2" ry="2.6" fill="#dcb3f7" opacity="0.75" transform="rotate(-25 125.80 93.90)"/>
<ellipse cx="130.00" cy="93.40" rx="2.6" ry="4.6" fill="#fff" transform="rotate(-25 130.00 93.40)"/>
<ellipse cx="131.00" cy="92.80" rx="1.2" ry="2.6" fill="#dcb3f7" opacity="0.75" transform="rotate(-25 131.00 92.80)"/>
<path d="M93,101.5 q5,3 10,0" stroke="#6e9c6b" stroke-width="0.5" fill="none" opacity="0.7"/>
<path d="M122.5,101.5 q5,3 10,0" stroke="#b68ad6" stroke-width="0.5" fill="none" opacity="0.7"/>
<text x="113.3" y="123.8" font-size="6.9" fill="#141414" stroke="#141414" stroke-width="0.1" text-anchor="middle"  style="">Bacterial-algal</text>
<text x="113.3" y="131.8" font-size="6.9" fill="#141414" stroke="#141414" stroke-width="0.1" text-anchor="middle"  style="">symbiotic system</text>
<text x="113" y="37" font-size="6.9" fill="#141414" stroke="#141414" stroke-width="0.1" text-anchor="middle"  style="">Light</text>
<text x="113" y="45.3" font-size="6.9" fill="#141414" stroke="#141414" stroke-width="0.1" text-anchor="middle"  style="">intensity</text>
<text x="162" y="65" font-size="7" fill="#141414" stroke="#141414" stroke-width="0.1" text-anchor="middle"  style="">pH</text>
<text x="181.3" y="102.5" font-size="6.9" fill="#141414" stroke="#141414" stroke-width="0.1" text-anchor="middle"  style="">HM</text>
<text x="180.7" y="111" font-size="6.9" fill="#141414" stroke="#141414" stroke-width="0.1" text-anchor="middle"  style="">concentra</text>
<text x="180.3" y="119.2" font-size="6.9" fill="#141414" stroke="#141414" stroke-width="0.1" text-anchor="middle"  style="">-tions and</text>
<text x="180.7" y="127.2" font-size="6.9" fill="#141414" stroke="#141414" stroke-width="0.1" text-anchor="middle"  style="">types</text>
<text x="160" y="159.8" font-size="6.9" fill="#141414" stroke="#141414" stroke-width="0.1" text-anchor="middle"  style="">Tem-</text>
<text x="160" y="167" font-size="6.9" fill="#141414" stroke="#141414" stroke-width="0.1" text-anchor="middle"  style="">perature</text>
<text x="111.5" y="178" font-size="6.9" fill="#141414" stroke="#141414" stroke-width="0.1" text-anchor="middle"  style="">Algae</text>
<text x="111.5" y="186.2" font-size="6.9" fill="#141414" stroke="#141414" stroke-width="0.1" text-anchor="middle"  style="">species</text>
<text x="64.8" y="164.8" font-size="6.9" fill="#141414" stroke="#141414" stroke-width="0.1" text-anchor="middle"  style="">Others</text>
<text x="42.5" y="107.7" font-size="6.9" fill="#141414" stroke="#141414" stroke-width="0.1" text-anchor="middle"  style="">Algae/</text>
<text x="42.5" y="115.8" font-size="6.9" fill="#141414" stroke="#141414" stroke-width="0.1" text-anchor="middle"  style="">bacteria</text>
<text x="42.5" y="123.8" font-size="6.9" fill="#141414" stroke="#141414" stroke-width="0.1" text-anchor="middle"  style="">ratios</text>
<text x="64.3" y="62" font-size="6.9" fill="#141414" stroke="#141414" stroke-width="0.1" text-anchor="middle"  style="">Carbon</text>
<text x="63.8" y="70.2" font-size="6.9" fill="#141414" stroke="#141414" stroke-width="0.1" text-anchor="middle"  style="">source</text></svg></body></html>
